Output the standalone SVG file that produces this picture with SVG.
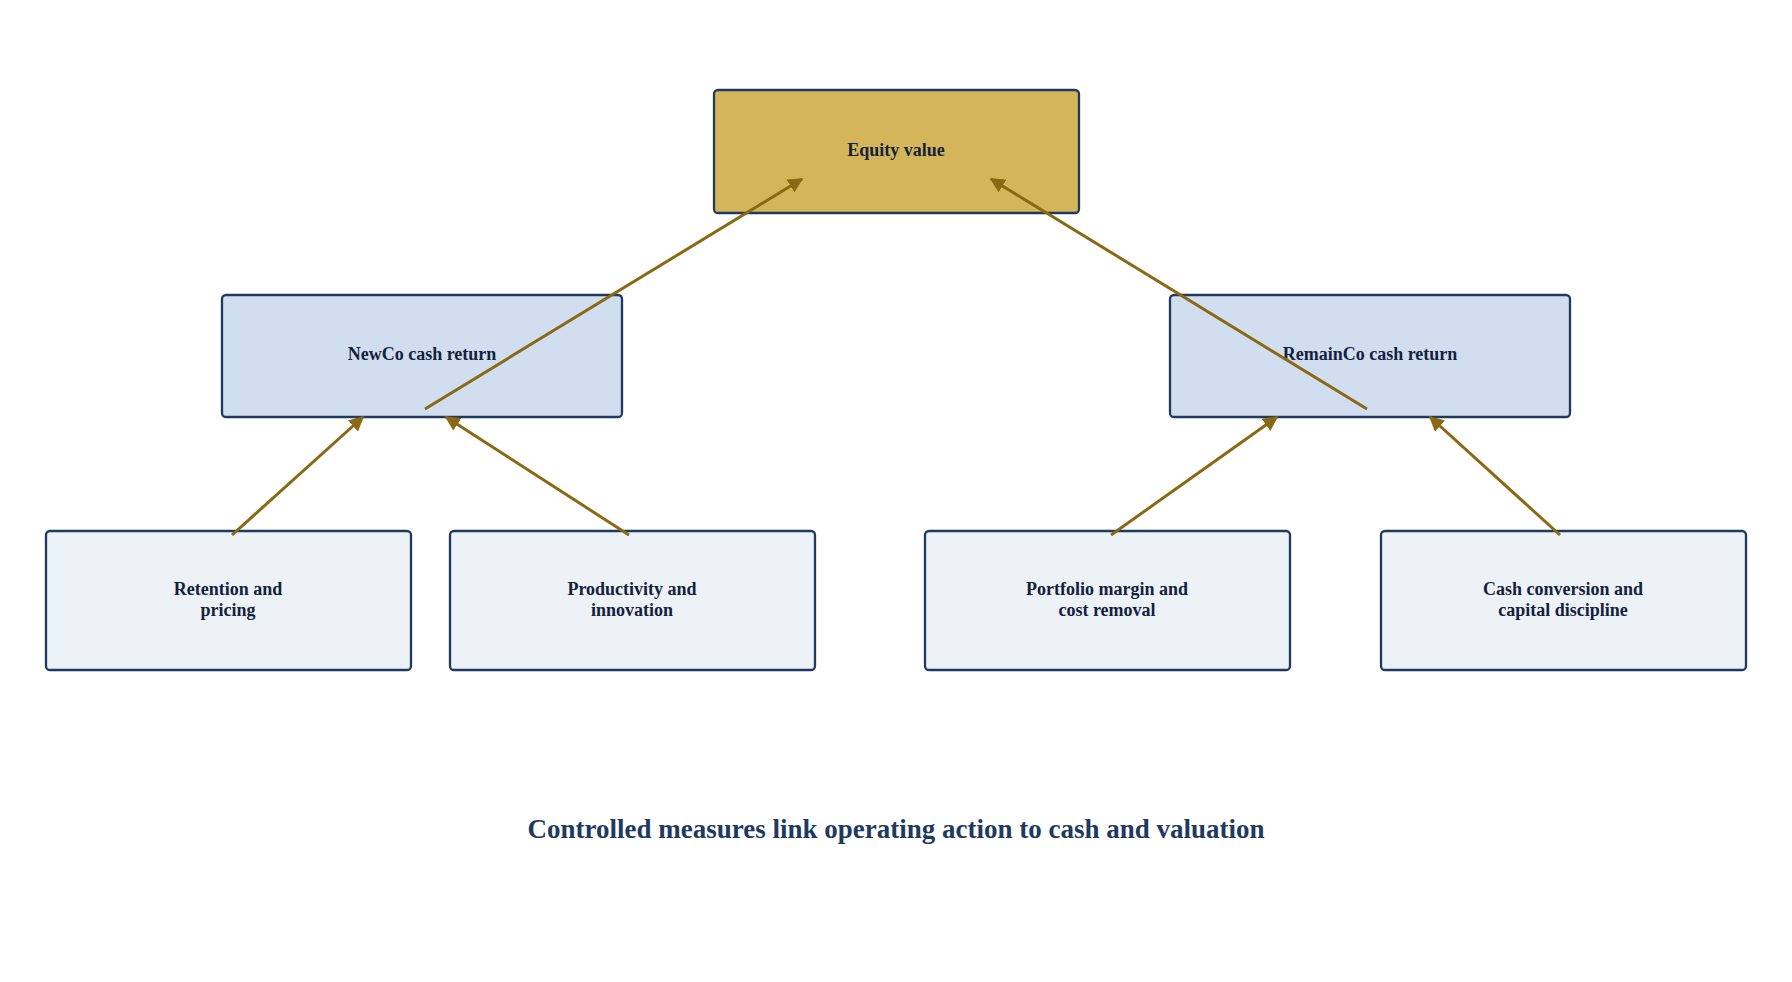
<svg xmlns="http://www.w3.org/2000/svg" width="1792" height="982" viewBox="0 0 1792 982">
<style>
.b{stroke:#1F3A5F;stroke-width:2.3}
.t{font-family:"Liberation Serif",serif;font-weight:bold;font-size:18px;fill:#14213D;text-anchor:middle}
.c{stroke:#8B6914;stroke-width:3;fill:none;marker-end:url(#a)}
</style>
<defs><marker id="a" viewBox="0 0 10 10" refX="9" refY="5" markerWidth="5" markerHeight="5" orient="auto"><path d="M0,0L10,5L0,10z" fill="#8B6914"/></marker></defs>
<rect width="1792" height="982" fill="#fff"/>
<g id="equity"><rect class="b" x="714" y="90" width="365" height="123" rx="4" fill="#D4B55A"/><text class="t" x="896" y="156">Equity value</text></g>
<g id="newco"><rect class="b" x="222" y="295" width="400" height="122" rx="4" fill="#D0DEF0"/><text class="t" x="422" y="360">NewCo cash return</text></g>
<g id="remainco"><rect class="b" x="1170" y="295" width="400" height="122" rx="4" fill="#D0DEF0"/><text class="t" x="1370" y="360">RemainCo cash return</text></g>
<g id="retention"><rect class="b" x="46" y="531" width="365" height="139" rx="4" fill="#EDF2F7"/><text class="t" x="228" y="595">Retention and<tspan x="228" dy="21">pricing</tspan></text></g>
<g id="productivity"><rect class="b" x="450" y="531" width="365" height="139" rx="4" fill="#EDF2F7"/><text class="t" x="632" y="595">Productivity and<tspan x="632" dy="21">innovation</tspan></text></g>
<g id="portfolio"><rect class="b" x="925" y="531" width="365" height="139" rx="4" fill="#EDF2F7"/><text class="t" x="1107" y="595">Portfolio margin and<tspan x="1107" dy="21">cost removal</tspan></text></g>
<g id="cashconv"><rect class="b" x="1381" y="531" width="365" height="139" rx="4" fill="#EDF2F7"/><text class="t" x="1563" y="595">Cash conversion and<tspan x="1563" dy="21">capital discipline</tspan></text></g>
<g id="connectors">
<line class="c" x1="425" y1="409" x2="802" y2="179"/>
<line class="c" x1="1367" y1="409" x2="991" y2="179"/>
<line class="c" x1="232" y1="535" x2="363" y2="417"/>
<line class="c" x1="629" y1="535" x2="446" y2="417"/>
<line class="c" x1="1111" y1="535" x2="1277" y2="417"/>
<line class="c" x1="1560" y1="535" x2="1430" y2="417"/>
</g>
<text x="896" y="838" style="font-family:'Liberation Serif',serif;font-weight:bold;font-size:27px;fill:#1F3A5F;text-anchor:middle">Controlled measures link operating action to cash and valuation</text>
</svg>
